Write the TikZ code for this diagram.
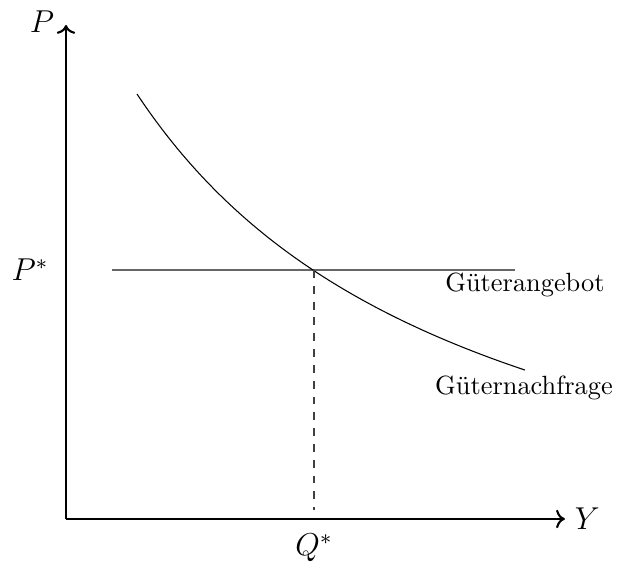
\documentclass[tikz,border=0pt]{standalone}
\usetikzlibrary{arrows.meta}

\begin{document}
\begin{tikzpicture}[x=1cm,y=1cm,font=\normalsize]
  \useasboundingbox (-0.88,-0.653) rectangle (7.347,6.92);
  \coordinate (O) at (0,0);
  \coordinate (xend) at (6.653,0);
  \coordinate (yend) at (0,6.587);
  \draw[->,thick] (O)--(xend);
  \draw[->,thick] (O)--(yend);
  \node[font=\large] at (6.95,0) {$Y$};
  \node[font=\large] at (-0.32,6.63) {$P$};
  % Angebot (horizontal)
  \coordinate (sa) at (0.613,3.32);
  \coordinate (sb) at (5.987,3.32);
  \draw[black!60] (sa)--(sb);
  \node at (6.12,3.12) {G\"uterangebot};
  % Nachfrage
  \draw[domain=0.947:6.12,samples=80] plot (\x,{32.17/(\x+3.671)-1.3});
  \node at (6.107,1.747) {G\"uternachfrage};
  % Gleichgewicht
  \coordinate (E) at (3.307,3.32);
  \coordinate (Eq) at (3.307,0.12);
  \draw[dashed,black!75] (E)--(Eq);
  \node[font=\large] at (-0.48,3.32) {$P^*$};
  \node[font=\large] at (3.307,-0.39) {$Q^*$};
\end{tikzpicture}
\end{document}
